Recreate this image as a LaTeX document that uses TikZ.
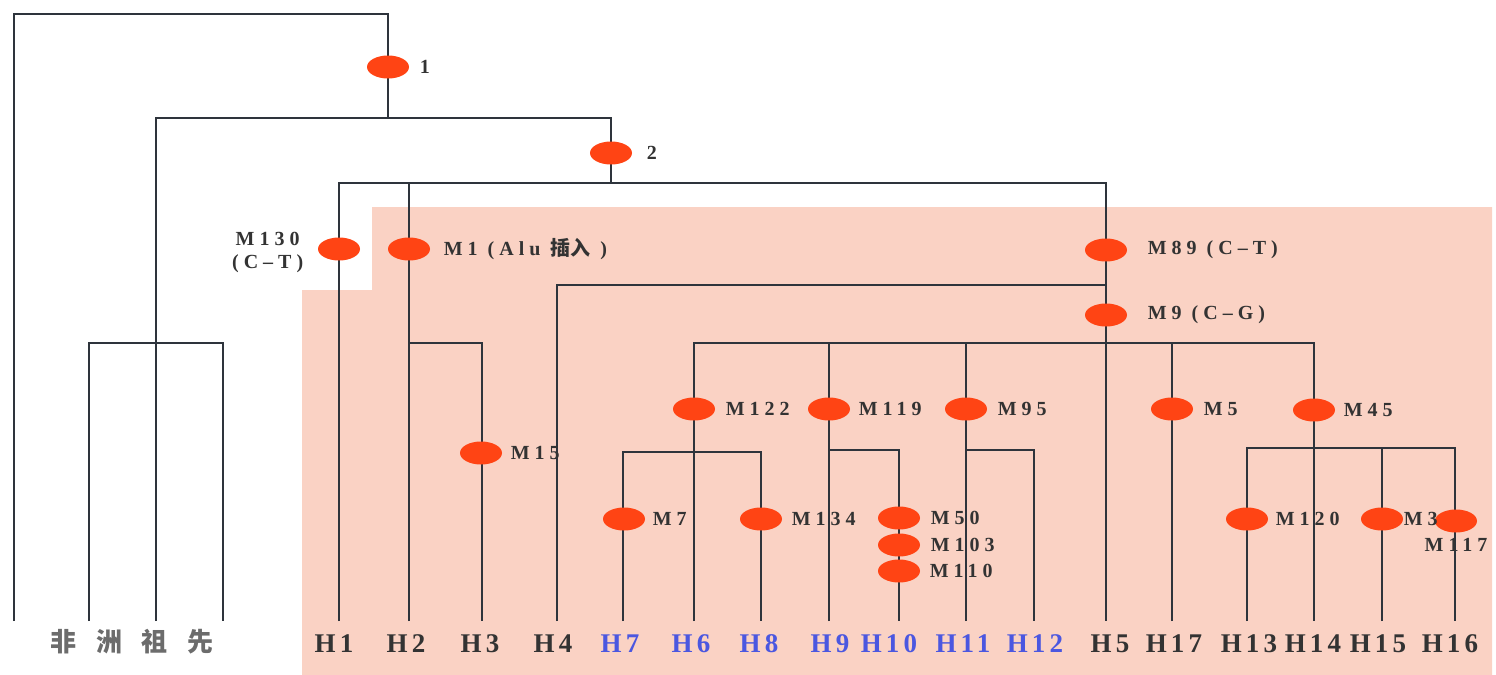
\documentclass[tikz,border=0pt]{standalone}
\usepackage{fontspec}
\setmainfont{Liberation Serif}
\newfontfamily\cjk{Noto Sans CJK SC}
\newfontfamily\cjkwide[LetterSpace=75]{Noto Sans CJK SC}
\newfontfamily\hapfont[LetterSpace=15]{Liberation Serif}
\newfontfamily\mutfont[LetterSpace=25]{Liberation Serif}
\usepackage{tikz}
\usetikzlibrary{shapes.geometric,positioning}
\definecolor{treegray}{HTML}{2E343C}
\definecolor{mutred}{HTML}{FF4414}
\definecolor{haploblue}{HTML}{4B57E0}
\definecolor{textgray}{HTML}{333333}
\definecolor{shadepink}{HTML}{FAD2C4}

\begin{document}
\begin{tikzpicture}[x=0.5pt, y=-0.5pt,
  branch/.style={draw=treegray, line width=1.3pt},
  mut/.style={ellipse, fill=mutred, minimum width=21pt, minimum height=11.5pt, inner sep=0pt},
  mlab/.style={font=\mutfont\bfseries\fontsize{10}{11.5}\selectfont, text=textgray, inner sep=0pt},
  hap/.style={font=\hapfont\bfseries\fontsize{13.5}{15}\selectfont, text=textgray, inner sep=0pt},
  bluehap/.style={hap, text=haploblue}
]
\useasboundingbox (0,0) rectangle (1496,675);
\fill[shadepink] (372,207) -- (1492,207) -- (1492,675) -- (302,675) -- (302,290) -- (372,290) -- cycle;

\foreach \n/\x in {a1/14,a2/89,a3/156,a4/223,h1/339,h2/409,h3/482,h4/557,h7/623,h6/694,h8/761,h9/829,h10/899,h11/966,h12/1034,h5/1106,h17/1172,h13/1247,h14/1314,h15/1382,h16/1455}
  \coordinate (\n) at (\x,621);
\coordinate (j0) at (388,14);
\coordinate (j1) at (388,118);
\coordinate (j2) at (611,183);
\coordinate (ja) at (156,343);
\coordinate (jb) at (409,343);
\coordinate (jc) at (1106,285);
\coordinate (jd) at (1106,343);
\coordinate (je) at (694,452);
\coordinate (jf) at (829,450);
\coordinate (jg) at (966,450);
\coordinate (jh) at (1314,448);

\draw[branch] (a1) |- (j0) -- (j1);
\draw[branch] (a3) |- (j1) -| (j2);
\draw[branch] (a2) |- (ja) -| (a4);
\draw[branch] (h1) |- (j2) -| (h5);
\draw[branch] (h2) -- (h2 |- j2);
\draw[branch] (jb) -| (h3);
\draw[branch] (h4) |- (jc);
\draw[branch] (h6) |- (jd) -| (h14);
\foreach \n in {h9,h11,h17} \draw[branch] (\n) -- (\n |- jd);
\draw[branch] (h7) |- (je) -| (h8);
\draw[branch] (jf) -| (h10);
\draw[branch] (jg) -| (h12);
\draw[branch] (h13) |- (jh) -| (h16);
\draw[branch] (h15) -- (h15 |- jh);

\foreach \n/\x/\y in {d1/388/67,d2/611/153,m130/339/249,m1/409/249,m89/1106/250,m9/1106/315,m122/694/409,m119/829/409,m95/966/409,m5/1172/409,m45/1314/410,m15/481/453,m7/624/519,m134/761/519,m50/899/518,m103/899/545,m110/899/571,m120/1247/519,m3/1382/519,m117/1456/521}
  \node[mut] (\n) at (\x,\y) {};

\node[mlab, right=5pt of d1] (t1) {1};
\node[mlab, right=7pt of d2] (t2) {2};
\node[mlab, left=7pt of m130, yshift=-1.5pt, align=center] (t130) {M130\\(C\textendash T)};
\node[mlab, right=6.5pt of m1] (t1b) {M1 (Alu {\cjk 插入} )};
\node[mlab, right=10pt of m89] (t89) {M89 (C\textendash T)};
\node[mlab, right=10pt of m9] (t9) {M9 (C\textendash G)};
\node[mlab, right=5pt of m122] (t122) {M122};
\node[mlab, right=4pt of m119] (t119) {M119};
\node[mlab, right=5pt of m95] (t95) {M95};
\node[mlab, right=5pt of m5] (t5) {M5};
\node[mlab, right=4pt of m45] (t45) {M45};
\node[mlab, right=4pt of m15] (t15) {M15};
\node[mlab, right=3.5pt of m7] (t7) {M7};
\node[mlab, right=4.5pt of m134] (t134) {M134};
\node[mlab, right=5pt of m50] (t50) {M50};
\node[mlab, right=5pt of m103] (t103) {M103};
\node[mlab, right=4.5pt of m110] (t110) {M110};
\node[mlab, right=3.5pt of m120] (t120) {M120};
\node[mlab, right=0pt of m3] (t3) {M3};
\node[mlab, below=2.5pt of m117] (t117) {M117};

\foreach \x/\t in {334/H1,406/H2,480/H3,553/H4,1110/H5,1174/H17,1249/H13,1313/H14,1378/H15,1450/H16}
  \node[hap] (lab-\t) at (\x,644) {\t};
\foreach \x/\t in {620/H7,691/H6,759/H8,830/H9,889/H10,963/H11,1035/H12}
  \node[bluehap] (lab-\t) at (\x,644) {\t};
\node[font=\cjkwide\bfseries\fontsize{13}{15}\selectfont, text=gray!85!black, inner sep=0pt] (africa) at (132,642) {非洲祖先};
\end{tikzpicture}
\end{document}
